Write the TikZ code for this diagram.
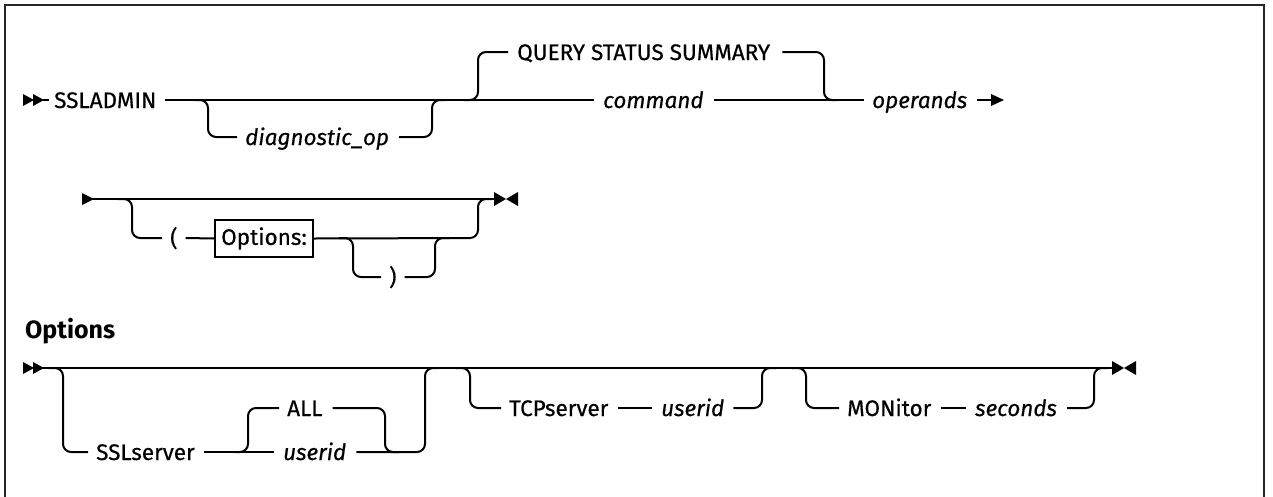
\documentclass[tikz,border=0pt]{standalone}
\usepackage{fontspec}
\setmainfont{Fira Sans}[UprightFeatures={FakeBold=0.5}, ItalicFeatures={FakeBold=0.5}]
\usetikzlibrary{calc}
\begin{document}
\begin{tikzpicture}[x=1pt,y=-1pt,
  ln/.style={line width=2pt, line join=round, rounded corners=8pt},
  txt/.style={inner sep=0pt, anchor=base west, font=\fontsize{22.5}{26}\selectfont},
  var/.style={txt, font=\fontsize{22.5}{26}\selectfont\itshape},
  ttl/.style={inner sep=0pt, anchor=base west, font=\fontsize{25}{29}\selectfont\bfseries},
  boxed/.style={draw, line width=1.6pt, inner sep=0pt, minimum width=98pt, minimum height=37pt, font=\fontsize{22.5}{26}\selectfont},
  tipfill/.style={fill=black, draw=none},
  frameline/.style={line width=2.8pt, draw=black!85}]
\useasboundingbox (0,0) rectangle (1273,496);
\draw[frameline] (5,497) -- (5,5) -- (1264,5) -- (1264,497);

% row levels
\coordinate (q1) at (0,52);
\coordinate (r1) at (0,100);
\coordinate (d1) at (0,137);
\coordinate (r2) at (0,199);
\coordinate (r2b) at (0,238);
\coordinate (r2c) at (0,277);
\coordinate (r3) at (0,368);
\coordinate (r3b) at (0,408);
\coordinate (r3c) at (0,452);

% ---------- row 1 ----------
\node[txt] (ssl) at (54,108) {SSLADMIN};
\node[var] (diag) at (245,145) {diagnostic\_op};
\node[txt] (qss) at (517,60) {QUERY STATUS SUMMARY};
\node[var] (cmd) at (603,108) {command};
\node[var] (opr) at (872,108) {operands};

\fill[tipfill] (23,94) -- (34,100) -- (23,106) -- cycle;
\fill[tipfill] (33,94) -- (44,100) -- (33,106) -- cycle;
\draw[ln] (43,100) -- ($(ssl.west|-r1)+(-5,0)$);
\draw[ln] ($(ssl.east|-r1)+(8,0)$) -- ($(cmd.west|-r1)+(-9,0)$);
\draw[ln] (194,100) -- (208,100) -- (208,137) -- ($(diag.west|-d1)+(-8,0)$);
\draw[ln] ($(diag.east|-d1)+(10,0)$) -- (432,137) -- (432,100) -- (446,100);
\draw[ln] (464,100) -- (478,100) -- (478,52) -- ($(qss.west|-q1)+(-9,0)$);
\draw[ln] ($(qss.east|-q1)+(12,0)$) -- (824,52) -- (824,100) -- (838,100);
\draw[ln] ($(cmd.east|-r1)+(10,0)$) -- ($(opr.west|-r1)+(-8,0)$);
\draw[ln] ($(opr.east|-r1)+(10,0)$) -- (993,100);
\fill[tipfill] (991,94) -- (1004,100) -- (991,106) -- cycle;

% ---------- row 2 ----------
\node[txt] (lp) at (170,246) {(};
\node[boxed] (optbox) at (264,238.5) {Options:};
\node[txt] (rp) at (389,285) {)};

\fill[tipfill] (82,193) -- (94,199) -- (82,205) -- cycle;
\draw[ln] (92,199) -- (496,199);
\draw[ln] (118,199) -- (132,199) -- (132,238) -- ($(lp.west|-r2b)+(-8,0)$);
\draw[ln] ($(lp.east|-r2b)+(8,0)$) -- (optbox.west);
\draw[ln] (optbox.east) -- (478,238) -- (478,199) -- (492,199);
\draw[ln] (339,238) -- (353,238) -- (353,277) -- ($(rp.west|-r2c)+(-8,0)$);
\draw[ln] ($(rp.east|-r2c)+(8,0)$) -- (435,277) -- (435,238) -- (449,238);
\fill[tipfill] (494,192) -- (506,199) -- (494,206) -- cycle;
\fill[tipfill] (518,192) -- (506,199) -- (518,206) -- cycle;

% ---------- Options fragment ----------
\node[ttl] (otitle) at (25,338) {Options};
\node[txt] (sslsrv) at (96,460) {SSLserver};
\node[var] (uid1) at (283,460) {userid};
\node[txt] (all) at (287,416) {ALL};
\node[txt] (tcp) at (509,416) {TCPserver};
\node[var] (uid2) at (661,416) {userid};
\node[txt] (mon) at (847,416) {MONitor};
\node[var] (sec) at (975,416) {seconds};

\fill[tipfill] (23,362) -- (34,368) -- (23,374) -- cycle;
\fill[tipfill] (33,362) -- (44,368) -- (33,374) -- cycle;
\draw[ln] (43,368) -- (1114,368);
\draw[ln] (49,368) -- (63,368) -- (63,452) -- ($(sslsrv.west|-r3c)+(-8,0)$);
\draw[ln] ($(sslsrv.east|-r3c)+(9,0)$) -- ($(uid1.west|-r3c)+(-9,0)$);
\draw[ln] (234,452) -- (248,452) -- (248,408) -- ($(all.west|-r3b)+(-8,0)$);
\draw[ln] ($(all.east|-r3b)+(10,0)$) -- (385,408) -- (385,452) -- (399,452);
\draw[ln] ($(uid1.east|-r3c)+(10,0)$) -- (425,452) -- (425,368) -- (439,368);
\draw[ln] (456,368) -- (470,368) -- (470,408) -- ($(tcp.west|-r3b)+(-8,0)$);
\draw[ln] ($(tcp.east|-r3b)+(9,0)$) -- ($(uid2.west|-r3b)+(-9,0)$);
\draw[ln] ($(uid2.east|-r3b)+(9,0)$) -- (762,408) -- (762,368) -- (776,368);
\draw[ln] (792,368) -- (806,368) -- (806,408) -- ($(mon.west|-r3b)+(-8,0)$);
\draw[ln] ($(mon.east|-r3b)+(9,0)$) -- ($(sec.west|-r3b)+(-9,0)$);
\draw[ln] ($(sec.east|-r3b)+(10,0)$) -- (1094,408) -- (1094,368) -- (1108,368);
\fill[tipfill] (1112,361) -- (1124,368) -- (1112,375) -- cycle;
\fill[tipfill] (1136,361) -- (1124,368) -- (1136,375) -- cycle;
\end{tikzpicture}
\end{document}
